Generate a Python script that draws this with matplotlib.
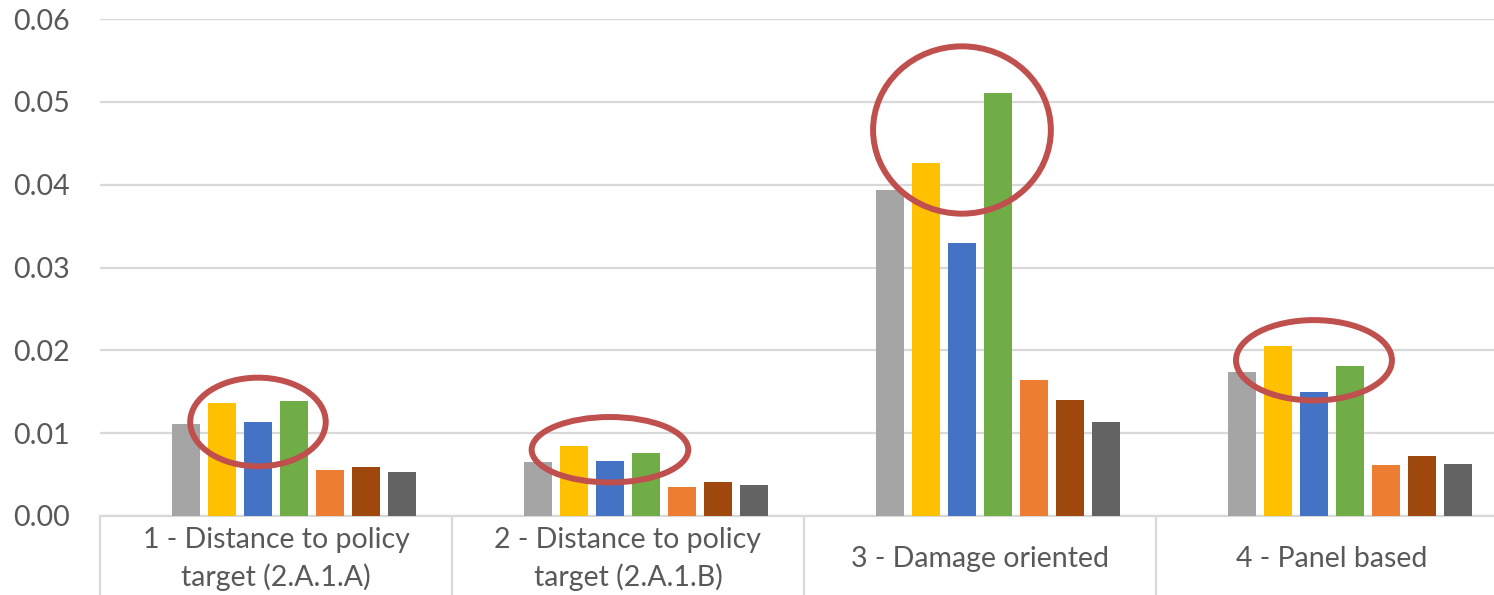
import numpy as np
import matplotlib.pyplot as plt
from matplotlib.patches import Ellipse
import matplotlib.transforms as mtransforms

# categories and values
categories = ["1 - Distance to policy\ntarget (2.A.1.A)",
              "2 - Distance to policy\ntarget (2.A.1.B)",
              "3 - Damage oriented",
              "4 - Panel based"]

s_gray = [0.0111, 0.0065, 0.0394, 0.0174]
s_yellow = [0.0136, 0.0085, 0.0426, 0.0205]
s_blue = [0.0114, 0.0067, 0.0330, 0.0150]
s_green = [0.0139, 0.0076, 0.0511, 0.0181]
s_orange = [0.0055, 0.0035, 0.0164, 0.0061]
s_brown = [0.0059, 0.0041, 0.0140, 0.0073]
s_dark = [0.0053, 0.0037, 0.0114, 0.0063]

series = [s_gray, s_yellow, s_blue, s_green, s_orange, s_brown, s_dark]
colors = ["#A5A5A5", "#FFC000", "#4472C4", "#70AD47", "#ED7D31", "#9E480E", "#636363"]

# red rings drawn over bars 2-4 of each group: (width in category units, centre y, height)
ring_w = [0.385, 0.445, 0.505, 0.443]
ring_y = [0.01135, 0.0080, 0.0466, 0.0188]
ring_h = [0.0107, 0.0079, 0.0202, 0.0097]

plt.rcParams['font.family'] = ['Lato', 'DejaVu Sans']
txt_col = "#595959"
grid_col = "#D9D9D9"

fig = plt.figure(figsize=(14.94, 5.95), dpi=100)
ax = fig.add_axes([100 / 1494, 79 / 595, 1408 / 1494, 497 / 595])

x = np.arange(len(categories))
slot = 0.1025
bw = 0.08
# excel layout leaves an empty slot in front of the first series
for i, (vals, c) in enumerate(zip(series, colors)):
    off = (i + 1 - 3.5) * slot
    ax.bar(x + off, vals, width=bw, color=c, zorder=3)

for k in range(len(categories)):
    cx = x[k] + (3 - 3.5) * slot
    e = Ellipse((cx, ring_y[k]), ring_w[k], ring_h[k], fill=False,
                edgecolor="#C0504D", linewidth=4.3, zorder=5)
    ax.add_patch(e)

ax.set_xlim(-0.5, 3.5)
ax.set_ylim(0, 0.06)
ax.set_yticks(np.arange(0, 0.061, 0.01))
ax.set_yticklabels(["%.2f" % v for v in np.arange(0, 0.061, 0.01)])
ax.yaxis.grid(True, color=grid_col, linewidth=1.6, zorder=0)
ax.tick_params(axis='y', length=0, pad=22, labelsize=20.5, labelcolor=txt_col)

for s in ["top", "right", "left"]:
    ax.spines[s].set_visible(False)
ax.spines["bottom"].set_color(grid_col)
ax.spines["bottom"].set_linewidth(1.6)

# category boxes under the axis
ax.set_xticks(x)
ax.set_xticklabels([])
ax.tick_params(axis='x', which='major', length=0)
ax.set_xticks(np.arange(-0.5, 4.0, 1.0), minor=True)
ax.tick_params(axis='x', which='minor', length=58, width=1.6, color=grid_col, direction='out')

trans = mtransforms.blended_transform_factory(ax.transData, ax.transAxes)
for k, lab in enumerate(categories):
    ax.text(x[k], -0.087, lab, transform=trans, ha='center', va='center',
            fontsize=20.5, color=txt_col, linespacing=1.45)

fig.savefig("out.png", dpi=100)
